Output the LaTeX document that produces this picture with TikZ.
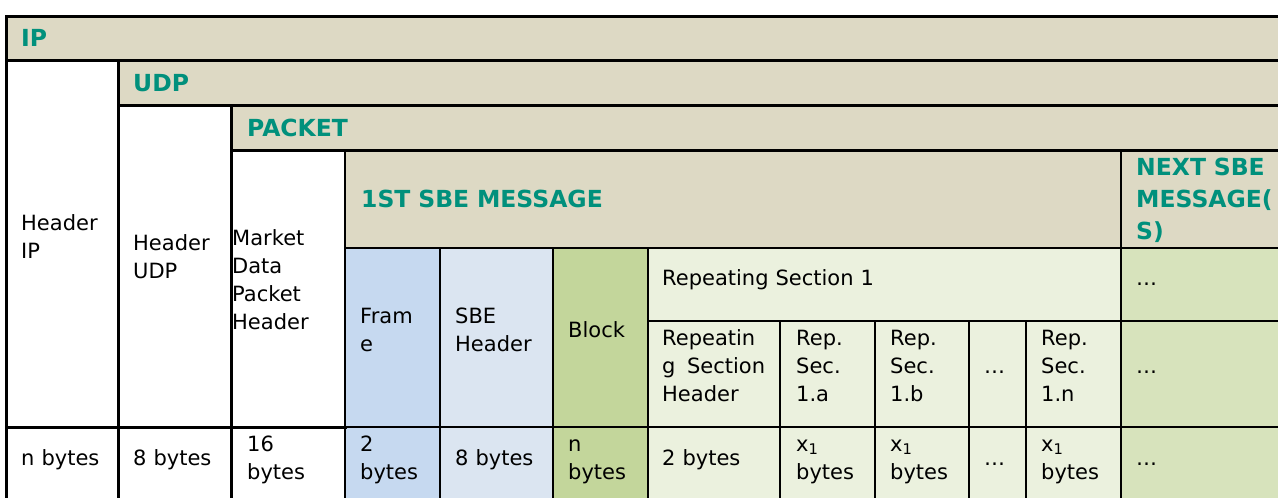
\documentclass[tikz,border=0pt]{standalone}
\usepackage{fontspec}
\setmainfont{DejaVu Sans}
\definecolor{tanbg}{HTML}{DDD9C4}
\definecolor{framebg}{HTML}{C6D9F0}
\definecolor{sbebg}{HTML}{DBE5F1}
\definecolor{blockbg}{HTML}{C3D69B}
\definecolor{repbg}{HTML}{EBF1DE}
\definecolor{nextbg}{HTML}{D7E3BC}
\definecolor{tealtxt}{RGB}{0,144,124}
\begin{document}
\begin{tikzpicture}[x=1pt,y=-1pt,
  txt/.style={anchor=base west, inner sep=0pt, align=left, text width=#1, font=\fontsize{21}{28.3}\selectfont, text=black},
  txt/.default=150pt,
  hdr/.style={anchor=base west, inner sep=0pt, align=left, text width=#1, font=\fontsize{23.5}{32}\selectfont\bfseries, text=tealtxt},
  hdr/.default=400pt,
  thickln/.style={line width=3pt, line cap=rect},
  midln/.style={line width=2pt, line cap=rect},
  thinln/.style={line width=1.2pt}]
\useasboundingbox (0,0) rectangle (1278,498);
\begin{scope}
\clip (0,0) rectangle (1278,498);
% fills
\fill[white] (0,0) rectangle (1278,498);
\fill[tanbg] (6,16) rectangle (1290,60);
\fill[tanbg] (118,60) rectangle (1290,105);
\fill[tanbg] (231,105) rectangle (1290,150);
\fill[tanbg] (345,150) rectangle (1290,248);
\fill[framebg] (345,248) rectangle (440,510);
\fill[sbebg] (440,248) rectangle (553,510);
\fill[blockbg] (553,248) rectangle (648,510);
\fill[repbg] (648,248) rectangle (1121,510);
\fill[nextbg] (1121,248) rectangle (1290,510);
% corner coordinates
\coordinate (tl) at (6,16);
\coordinate (tr) at (1290,16);
\coordinate (bl) at (6,510);
% thin lines
\draw[thinln] (648,321) -- (1290,321);
\draw[thinln] (345,427) -- (1290,427);
\foreach \xx in {780,875,969,1026} \draw[thinln] (\xx,321) -- (\xx,510);
% medium lines
\draw[midln] (345,150) -- (345,510);
\draw[midln] (345,248) -- (1290,248);
\draw[midln] (440,248) -- (440,510);
\draw[line width=1.6pt] (553,248) -- (553,510);
\draw[midln] (648,248) -- (648,510);
\draw[midln] (1121,150) -- (1121,510);
% thick lines
\draw[thickln] (tr) -- (tl) -- (bl);
\draw[thickln] (6,60) -- (1290,60);
\draw[thickln] (118,105) -- (1290,105);
\draw[thickln] (231,150) -- (1290,150);
\draw[thickln] (118,60) -- (118,510);
\draw[thickln] (231,105) -- (231,510);
\draw[thickln] (6,427) -- (345,427);
\end{scope}
% headers
\node[hdr] (ip) at (21,46) {IP};
\node[hdr] (udp) at (133,91) {UDP};
\node[hdr] (packet) at (247,136) {PACKET};
\node[hdr] (first) at (361,207) {1ST SBE MESSAGE};
\node[hdr=140pt] (next) at (1136,175) {NEXT SBE\\MESSAGE(\\S)};
% body cells
\node[txt] (hip) at (21,230) {Header\\IP};
\node[txt] (hudp) at (133,250) {Header\\UDP};
\node[txt] (mdph) at (232,245) {Market\\Data\\Packet\\Header};
\node[txt] (frame) at (360,323) {Fram\\e};
\node[txt] (sbeh) at (455,323) {SBE\\Header};
\node[txt] (block) at (568,337) {Block};
\node[txt=300pt] (rep1) at (662,285) {Repeating Section 1};
\node[txt] (rsh) at (662,345) {Repeatin\\g\hspace{11.5pt}Section\\Header};
\node[txt] (ra) at (796,345) {Rep.\\Sec.\\1.a};
\node[txt] (rb) at (890,345) {Rep.\\Sec.\\1.b};
\node[txt] (rdots) at (984,373) {…};
\node[txt] (rn) at (1041,345) {Rep.\\Sec.\\1.n};
\node[txt] (n1) at (1136,285) {…};
\node[txt] (n2) at (1136,373) {…};
% size row
\node[txt] (sip) at (21,465) {n bytes};
\node[txt] (sudp) at (133,465) {8 bytes};
\node[txt] (spk) at (247,451) {16\\bytes};
\node[txt] (sfr) at (360,451) {2\\bytes};
\node[txt] (ssbe) at (455,465) {8 bytes};
\node[txt] (sblk) at (568,451) {n\\bytes};
\node[txt] (srsh) at (662,465) {2 bytes};
\node[txt] (sa) at (796,451) {x\textsubscript{1}\\bytes};
\node[txt] (sb) at (890,451) {x\textsubscript{1}\\bytes};
\node[txt] (sdots) at (984,465) {…};
\node[txt] (sn) at (1041,451) {x\textsubscript{1}\\bytes};
\node[txt] (n3) at (1136,465) {…};
\end{tikzpicture}
\end{document}
